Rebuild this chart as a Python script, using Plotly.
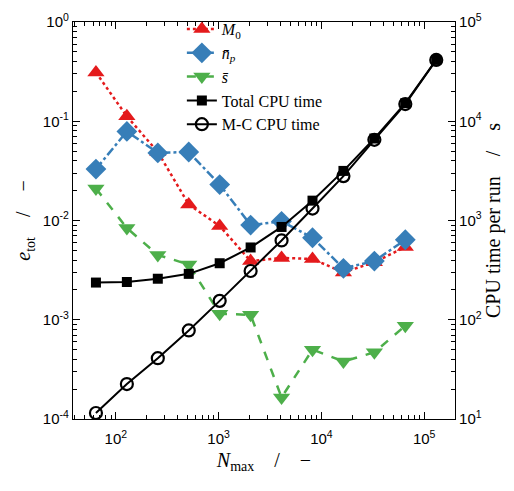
import plotly.graph_objects as go

N = [64, 128, 256, 512, 1024, 2048, 4096, 8192, 16384, 32768, 65536]
N_cpu = [64, 128, 256, 512, 1024, 2048, 4096, 8192, 16384, 32768, 65536, 131072]

e_M0 = [0.31, 0.112, 0.049, 0.0145, 0.0088, 0.0039, 0.0042, 0.0041, 0.0030, 0.0038, 0.0054]
e_np = [0.033, 0.079, 0.048, 0.049, 0.023, 0.0090, 0.0098, 0.0067, 0.0033, 0.0039, 0.0064]
e_s = [0.021, 0.0084, 0.0045, 0.0036, 0.00115, 0.00112, 0.000165, 0.00050, 0.00038, 0.00047, 0.00087]

cpu_total = [237, 240, 259, 290, 371, 535, 861, 1585, 3160, 6700, 15200, 41500]
cpu_mc = [11.5, 22.5, 41, 78, 155, 310, 630, 1320, 2800, 6500, 14900, 41500]

RED = "#e41a1c"
BLUE = "#377eb8"
GREEN = "#4daf4a"
SERIF = "Liberation Serif"
SANS = "Liberation Sans"

fig = go.Figure()
fig.add_trace(go.Scatter(x=N, y=e_M0, mode="lines+markers", name="<i>M</i><sub>0</sub>",
                         line=dict(color=RED, width=2.5, dash="dot"),
                         marker=dict(symbol="triangle-up", size=15, color=RED)))
fig.add_trace(go.Scatter(x=N, y=e_np, mode="lines+markers", name="<i>n̄</i><sub><i>p</i></sub>",
                         line=dict(color=BLUE, width=2.5, dash="dashdot"),
                         marker=dict(symbol="diamond", size=16, color=BLUE)))
fig.add_trace(go.Scatter(x=N, y=e_s, mode="lines+markers", name="<i>s̄</i>",
                         line=dict(color=GREEN, width=2.5, dash="dash"),
                         marker=dict(symbol="triangle-down", size=15, color=GREEN)))
fig.add_trace(go.Scatter(x=N_cpu, y=cpu_total, mode="lines+markers", name="Total CPU time",
                         line=dict(color="black", width=2),
                         marker=dict(symbol="square", size=10, color="black"), yaxis="y2"))
fig.add_trace(go.Scatter(x=N_cpu, y=cpu_mc, mode="lines+markers", name="M-C CPU time",
                         line=dict(color="black", width=2),
                         marker=dict(symbol="circle-open", size=12, color="black",
                                     line=dict(width=2.2, color="black")), yaxis="y2"))

ltick_vals = [1e-4, 1e-3, 1e-2, 1e-1, 1]
ltick_text = ["10<sup>-4</sup>", "10<sup>-3</sup>", "10<sup>-2</sup>", "10<sup>-1</sup>", "10<sup>0</sup>"]
rtick_vals = [10, 100, 1e3, 1e4, 1e5]
rtick_text = ["10<sup>1</sup>", "10<sup>2</sup>", "10<sup>3</sup>", "10<sup>4</sup>", "10<sup>5</sup>"]
xtick_vals = [100, 1e3, 1e4, 1e5]
xtick_text = ["10<sup>2</sup>", "10<sup>3</sup>", "10<sup>4</sup>", "10<sup>5</sup>"]

minor = dict(ticks="inside", ticklen=4, tickcolor="black", dtick="D1", showgrid=False)

fig.update_layout(
    width=514, height=491,
    margin=dict(l=73, r=59, t=12, b=72),
    paper_bgcolor="white", plot_bgcolor="white",
    font=dict(family=SANS, size=15, color="black"),
    showlegend=True,
    legend=dict(x=0.285, y=1.025, xanchor="left", yanchor="top",
                bgcolor="rgba(0,0,0,0)", font=dict(family=SERIF, size=16),
                tracegroupgap=0, itemwidth=30),
    xaxis=dict(type="log", range=[1.583, 5.30], showline=True, linecolor="black", linewidth=1.2,
               mirror="ticks", ticks="inside", ticklen=7, tickcolor="black",
               tickvals=xtick_vals, ticktext=xtick_text, showgrid=False, zeroline=False,
               minor=minor, ticklabelstandoff=6,
               title=dict(text="<i>N</i><sub>max</sub>    /    −", font=dict(family=SERIF, size=20), standoff=6)),
    yaxis=dict(type="log", range=[-4, 0], showline=True, linecolor="black", linewidth=1.2,
               ticks="inside", ticklen=7, tickcolor="black",
               tickvals=ltick_vals, ticktext=ltick_text, showgrid=False, zeroline=False,
               minor=minor,
               title=dict(text="<i>e</i><sub>tot</sub>    /    −", font=dict(family=SERIF, size=20), standoff=6)),
    yaxis2=dict(type="log", range=[1, 5], overlaying="y", side="right", showline=True,
                linecolor="black", linewidth=1.2, ticks="inside", ticklen=7, tickcolor="black",
                tickvals=rtick_vals, ticktext=rtick_text, showgrid=False, zeroline=False,
                minor=minor,
                title=dict(text="CPU time per run    /    s", font=dict(family=SERIF, size=20), standoff=4)),
)

fig.write_html("out.html")
